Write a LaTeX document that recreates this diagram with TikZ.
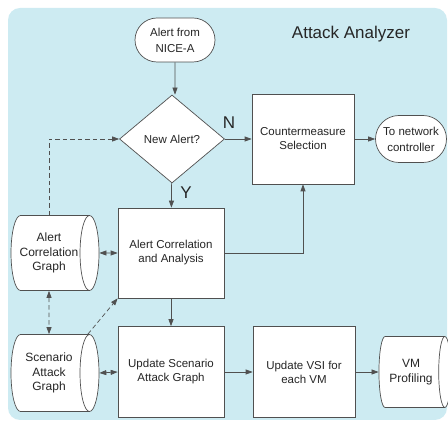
\documentclass[tikz,border=0pt]{standalone}
\usepackage{fontspec}
\setmainfont{Liberation Sans}
\usetikzlibrary{shapes.geometric,shapes.misc,arrows.meta}
\definecolor{panelblue}{HTML}{CDEBF2}
\definecolor{edgegray}{HTML}{505050}
\begin{document}
\begin{tikzpicture}[x=1pt,y=1pt,
  every node/.style={font=\fontsize{11.5}{14}\selectfont, align=center, text=black!85},
  procbox/.style={rectangle, draw=edgegray, fill=white, line width=0.7pt},
  termbox/.style={rounded rectangle, draw=edgegray, fill=white, line width=0.7pt, inner sep=1pt, font=\fontsize{11.5}{16}\selectfont},
  storebox/.style={cylinder, shape aspect=0.45, draw=edgegray, fill=white, line width=0.7pt, inner sep=1pt, font=\fontsize{12}{14.5}\selectfont},
  bigtext/.style={font=\fontsize{17}{17}\selectfont},
  flow/.style={draw=edgegray, line width=0.7pt, -{Triangle[length=7pt,width=5pt]}},
  dashes/.style={dash pattern=on 4.5pt off 3pt},
  dataflow/.style={draw=edgegray, line width=0.7pt, dashes, {Triangle[length=7pt,width=5pt]}-{Triangle[length=7pt,width=5pt]}}]
\useasboundingbox (0,0) rectangle (448,423);
\fill[panelblue, rounded corners=12pt] (8,3) rectangle (447,415);
\node[bigtext] (title) at (351,389) {Attack Analyzer};
% top row
\node[termbox, minimum width=82pt, minimum height=44pt] (alertin) at (175,383) {Alert from\\NICE-A};
\node[diamond, draw=edgegray, fill=white, line width=0.7pt, minimum width=105pt, minimum height=88pt, inner sep=0pt] (newalert) at (172,284) {New Alert?};
\node[procbox, minimum width=102pt, minimum height=90pt] (counter) at (303,284) {Countermeasure\\Selection};
\node[termbox, minimum width=73pt, minimum height=47pt] (tonet) at (411,284) {To network\\controller};
% middle and bottom rows
\node[procbox, minimum width=106pt, minimum height=90pt] (corr) at (171,170) {Alert Correlation\\and Analysis};
\node[procbox, minimum width=106pt, minimum height=91pt] (updscen) at (171,51) {Update Scenario\\Attack Graph};
\node[procbox, minimum width=102pt, minimum height=91pt] (updvsi) at (304,51) {Update VSI for\\each VM};
\node[storebox, minimum height=72pt, minimum width=71pt] (vmprof) at (411,51) {VM\\Profiling};
\node[storebox, minimum height=88pt, minimum width=75pt] (acg) at (49,170) {Alert\\Correlation\\Graph};
\node[storebox, minimum height=88pt, minimum width=77pt] (sag) at (49,50) {Scenario\\Attack\\Graph};
\node[bigtext] (nlabel) at (229,300) {N};
\node[bigtext] (ylabel) at (186,230) {Y};
% control flow
\draw[flow] (alertin) -- (alertin |- newalert.north);
\draw[flow] (newalert) -- (counter);
\draw[flow] (newalert) -- (corr);
\draw[flow] (counter) -- (tonet);
\draw[flow] (corr.east) -| (counter.south);
\draw[flow] (corr) -- (updscen);
\draw[flow] (updscen) -- (updvsi);
\draw[flow] (updvsi) -- (vmprof);
% data flow
\draw[flow, dashes] (acg.north) |- (newalert.west);
\draw[dataflow] (acg.east) -- (corr.west);
\draw[dataflow] (acg.south) -- (sag.north);
\draw[dataflow] (sag.east) -- (updscen.west);
\draw[flow, dashes] (sag.north east) -- (corr.south west);
\end{tikzpicture}
\end{document}
